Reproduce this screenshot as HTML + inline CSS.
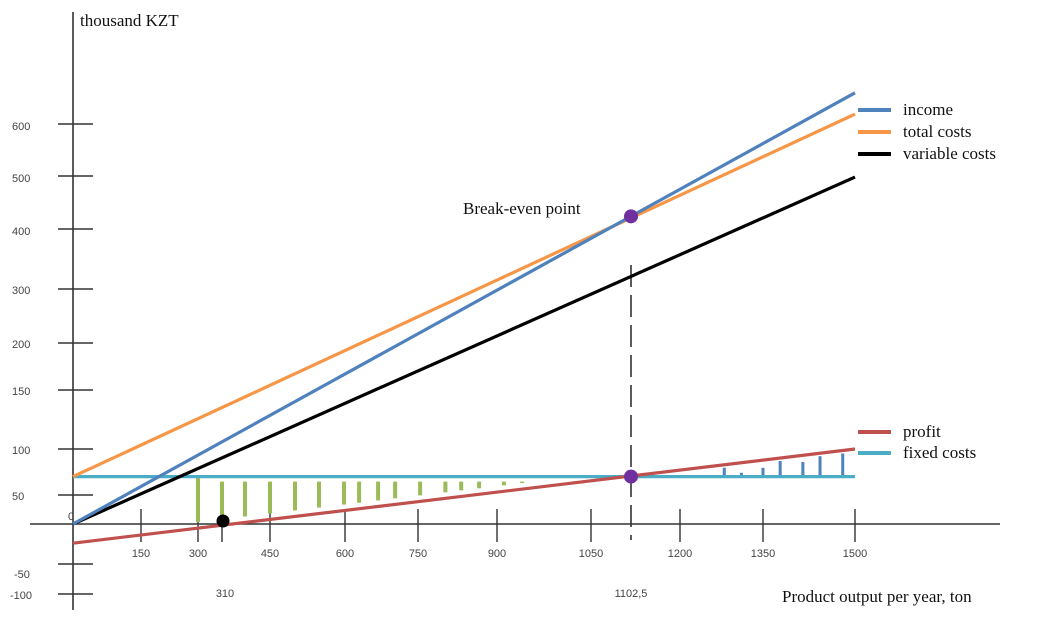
<!DOCTYPE html>
<html><head><meta charset="utf-8"><style>
html,body{margin:0;padding:0;background:#fff;}
svg{display:block;}
.t{font-family:"Liberation Sans",sans-serif;font-size:11px;fill:#444;}
.s{font-family:"Liberation Serif",serif;font-size:17px;fill:#111;}
</style></head><body>
<svg id="chart" width="1056" height="618" viewBox="0 0 1056 618" xmlns="http://www.w3.org/2000/svg"></svg>
<script>
const xTicks=[150,300,450,600,750,900,1050,1200,1350,1500];
const yTicks=[600,500,400,300,200,150,100,50,-50,-100];
const xRange=[0,1500];
const incomeVals=[0,660];
const totalVals=[70,619];
const variableVals=[0,498];
const fixedVals=[70,70];
const profitVals=[-24,100];
const breakEvenX=1102.5;
const markerX=310;
const greenBarsX=[300,310,377,450,500,548,598,629,668,703,754,802,832,866,911,940];
const blueBarsX=[1280,1311,1350,1378,1415,1443,1480];
const blueBarFrac=[1,0.35,0.65,1,0.8,1,1];

// axis scales (hand-drawn, non-uniform spacing)
const xAnch=[[0,73],[150,141],[300,198],[310,222],[450,270],[600,345],[750,418],[900,497],[1050,591],[1102.5,631],[1200,680],[1350,763],[1500,855]];
const yAnch=[[-100,594],[-50,564],[0,524],[50,495],[100,449],[150,390],[200,343],[300,289],[400,229],[500,176],[600,124],[700,72]];
function interp(a,v){
  for(let i=0;i<a.length-1;i++){
    if(v<=a[i+1][0]||i===a.length-2){
      const [v0,p0]=a[i],[v1,p1]=a[i+1];
      return p0+(v-v0)/(v1-v0)*(p1-p0);
    }
  }
}
const X=v=>interp(xAnch,v), Y=v=>interp(yAnch,v);
const svg=document.getElementById('chart');
const NS='http://www.w3.org/2000/svg';
function mk(tag,attrs,parent){const e=document.createElementNS(NS,tag);for(const k in attrs)e.setAttribute(k,attrs[k]);(parent||svg).appendChild(e);return e;}
const AX=X(0);

let e;
e=mk('line',{x1:AX,y1:12,x2:AX,y2:610,stroke:'#333','stroke-width':1.6});


e=mk('line',{x1:30,y1:Y(0),x2:1000,y2:Y(0),stroke:'#333','stroke-width':1.6});



yTicks.forEach(v=>{
  const y=Y(v);
  e=mk('line',{x1:AX-15,y1:y,x2:AX+20,y2:y,stroke:'#333','stroke-width':1.4});
  
  
  e=mk('text',{x:v===-100?10:(v<0?14:12),y:y+(v>=400?6:(v===-50?14:5)),class:'t'});
  e.textContent=v;
  
  
});
xTicks.forEach(v=>{
  const x=X(v);
  e=mk('line',{x1:x,y1:Y(0)-15,x2:x,y2:Y(0)+18,stroke:'#333','stroke-width':1.4});
  
  
  e=mk('text',{x:x,y:557,class:'t','text-anchor':'middle'});
  e.textContent=v;
  
  
});
e=mk('line',{x1:X(markerX),y1:Y(0)-5,x2:X(markerX),y2:Y(0)+18,stroke:'#333','stroke-width':1.4});


e=mk('text',{x:X(markerX)+3,y:597,class:'t','text-anchor':'middle'});
e.textContent='310';


e=mk('text',{x:X(breakEvenX),y:597,class:'t','text-anchor':'middle'});
e.textContent='1102,5';



e=mk('line',{x1:X(breakEvenX),y1:265,x2:X(breakEvenX),y2:540,stroke:'#333','stroke-width':1.6,'stroke-dasharray':'22,8'});



function pyAt(x){return Y(profitVals[0])+(Y(profitVals[1])-Y(profitVals[0]))*(X(x)-X(0))/(X(1500)-X(0));}

greenBarsX.forEach((v,i)=>{
  const x=X(v);
  e=mk('line',{x1:x,y1:Y(fixedVals[0])+(i===0?0:5),x2:x,y2:pyAt(v)-6,stroke:'#9bbb59','stroke-width':4});
  
  
});
blueBarsX.forEach((v,i)=>{
  const x=X(v),y0=Y(fixedVals[0]),y1=pyAt(v)+3;
  e=mk('line',{x1:x,y1:y0,x2:x,y2:y0-(y0-y1)*blueBarFrac[i],stroke:'#4f81bd','stroke-width':3});
  
  
});

const series=[
  ['fixed-costs-line',fixedVals,'#4bacc6'],
  ['profit-line',profitVals,'#c0504d'],
  ['total-costs-line',totalVals,'#f79646'],
  ['variable-costs-line',variableVals,'#000'],
  ['income-line',incomeVals,'#4f81bd']
];
series.forEach(([n,vals,c])=>{
  e=mk('line',{x1:X(xRange[0]),y1:Y(vals[0]),x2:X(xRange[1]),y2:Y(vals[1]),stroke:c,'stroke-width':3.2});
  
  
});

function incomeY(x){return Y(incomeVals[0])+(Y(incomeVals[1])-Y(incomeVals[0]))*(X(x)-X(0))/(X(1500)-X(0));}
e=mk('circle',{cx:X(breakEvenX),cy:incomeY(breakEvenX),r:7,fill:'#7030a0'});


e=mk('circle',{cx:X(breakEvenX),cy:Y(fixedVals[0]),r:7,fill:'#7030a0'});


e=mk('circle',{cx:X(markerX)+1,cy:Y(0)-3,r:6.5,fill:'#000'});



e=mk('text',{x:463,y:214,class:'s'});e.textContent='Break-even point';


e=mk('text',{x:80,y:26,class:'s'});e.textContent='thousand KZT';


e=mk('text',{x:782,y:602,class:'s'});e.textContent='Product output per year, ton';


e=mk('text',{x:68,y:520,class:'t','font-size':'14'});e.textContent='0';



const legend=[['income','#4f81bd',110],['total costs','#f79646',132],['variable costs','#000',154],['profit','#c0504d',432],['fixed costs','#4bacc6',453]];
legend.forEach(([t,c,y])=>{
  const g=mk('g',{});
  
  
  mk('line',{x1:858,y1:y,x2:891,y2:y,stroke:c,'stroke-width':4},g);
  const tx=mk('text',{x:903,y:y+5,class:'s'},g);tx.textContent=t;
});
</script>
</body></html>
